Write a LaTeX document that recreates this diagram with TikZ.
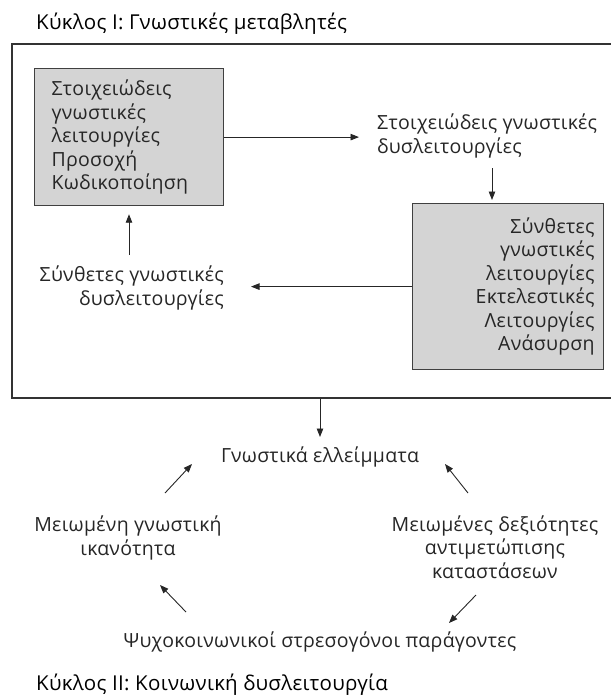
\documentclass[tikz,border=0pt]{standalone}
\usepackage{fontspec}
\setmainfont[LetterSpace=1.5]{Open Sans}
\usetikzlibrary{arrows.meta}
\begin{document}
\begin{tikzpicture}[x=1pt,y=-1pt,
  txt/.style={inner sep=0pt, font=\fontsize{19.5}{23.5}\selectfont, text=black!85},
  ttl/.style={inner sep=0pt, font=\fontsize{20.5}{25}\selectfont, text=black},
  gbox/.style={draw=black!75, fill=black!17, line width=1.2pt, font=\fontsize{19.5}{23.5}\selectfont, text=black!85},
  outerbox/.style={draw=black!80, line width=1.3pt},
  arr/.style={-{Triangle[length=8.5pt,width=6.5pt]}, line width=0.9pt, draw=black!85},
]
\useasboundingbox (0,0) rectangle (611,697);
\clip (0,0) rectangle (611,697);

\node[ttl, anchor=base west] (t1) at (36,29) {Κύκλος Ι: Γνωστικές μεταβλητές};
\node[outerbox, minimum width=628pt, minimum height=354pt, inner sep=0pt] (outer) at (326,221) {};

\node[gbox, anchor=north west, minimum width=189pt, minimum height=137pt, text width=155pt, inner xsep=17pt, align=left] (lbox) at (34,68)
  {Στοιχειώδεις\\γνωστικές\\λειτουργίες\\Προσοχή\\Κωδικοποίηση};
\node[gbox, anchor=north west, minimum width=191pt, minimum height=166pt, text width=173pt, inner xsep=9pt, align=right] (rbox) at (412,203)
  {Σύνθετες\\γνωστικές\\λειτουργίες\\Εκτελεστικές\\Λειτουργίες\\Ανάσυρση};

% base anchor of a multi-line node = baseline of its last line
\node[txt, anchor=base west, align=left] (l1) at (377,153) {Στοιχειώδεις γνωστικές\\δυσλειτουργίες};
\node[txt, anchor=base east, align=right] (l2) at (224,305) {Σύνθετες γνωστικές\\δυσλειτουργίες};

\draw[arr, shorten >=18pt] (lbox.east) -- (lbox.east -| l1.west);
\coordinate (d1) at (492,168);
\draw[arr, shorten >=3pt] (d1) -- (d1 |- rbox.north);
\draw[arr, shorten >=27pt] (rbox.west) -- (rbox.west -| l2.east);
\coordinate (u1) at (129,255);
\draw[arr, shorten >=8pt] (u1) -- (u1 |- lbox.south);

% Cycle II
\node[txt, anchor=base] (ge) at (320,462) {Γνωστικά ελλείμματα};
\draw[arr, shorten >=25pt] (ge.north |- outer.south) -- (ge.base);
\node[txt, anchor=base, align=center] (mg) at (128,555) {Μειωμένη γνωστική\\ικανότητα};
\node[txt, anchor=base, align=center] (md) at (495,578) {Μειωμένες δεξιότητες\\αντιμετώπισης\\καταστάσεων};
\node[txt, anchor=base] (ps) at (320,647) {Ψυχοκοινωνικοί στρεσογόνοι παράγοντες};
\node[ttl, anchor=base west] (t2) at (36,690) {Κύκλος ΙΙ: Κοινωνική δυσλειτουργία};

\coordinate (a1s) at (165,493); \coordinate (a1e) at (192,464);
\coordinate (a2s) at (468,493); \coordinate (a2e) at (445,464);
\coordinate (a3s) at (476,595); \coordinate (a3e) at (449,623);
\coordinate (a4s) at (186,612); \coordinate (a4e) at (160,585);
\draw[arr] (a1s) -- (a1e);
\draw[arr] (a2s) -- (a2e);
\draw[arr] (a3s) -- (a3e);
\draw[arr] (a4s) -- (a4e);
\end{tikzpicture}
\end{document}
